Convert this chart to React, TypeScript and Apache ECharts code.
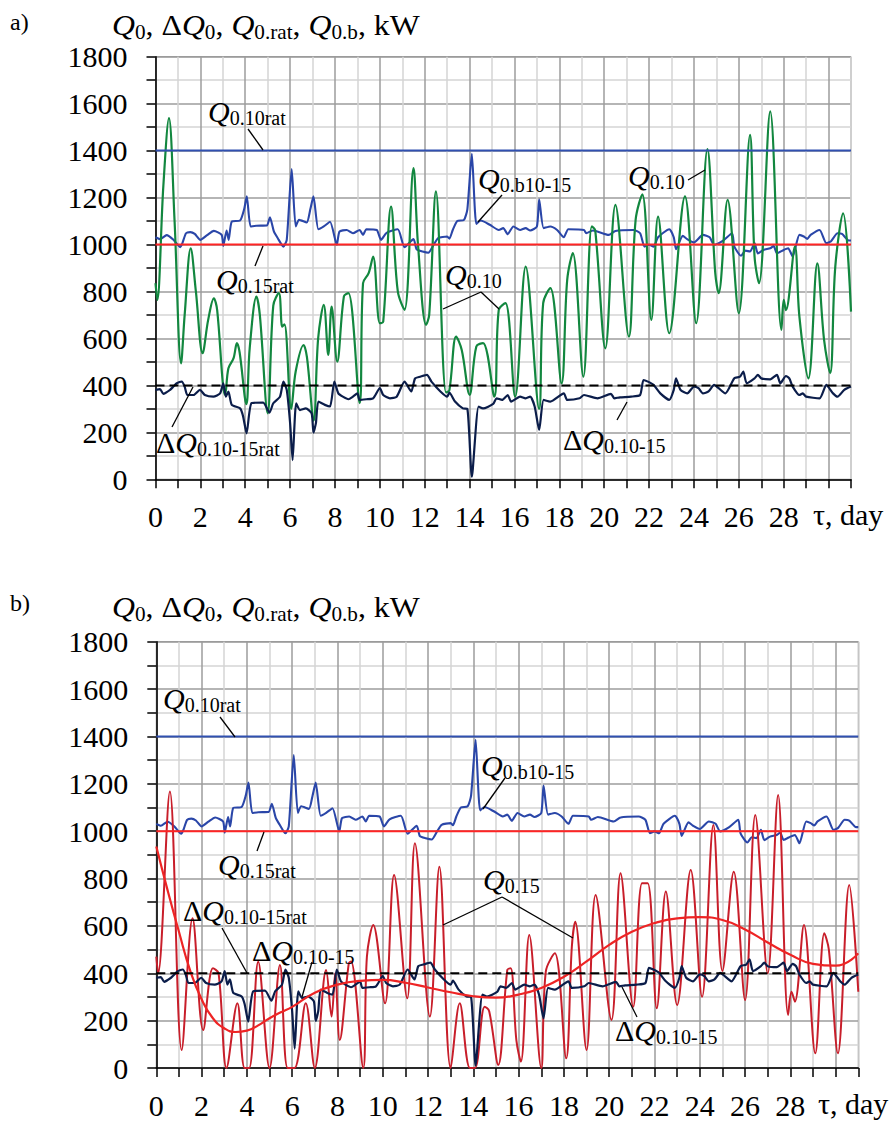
import React, { useEffect, useRef } from 'react';
import * as echarts from 'echarts';

// ---------- DATA ----------
const X_MAX = 31; // days
const Y_MAX = 1800; // kW
const Q010_RAT = 1400;
const Q015_RAT = 1000;
const DQ_RAT = 400;

// Q0.10 (panel a, green) [day, kW]
const q010 = [
  [0, 835], [0.08, 764], [0.35, 1250], [0.6, 1538], [0.85, 1100], [1.14, 494], [1.3, 700], [1.57, 984],
  [1.8, 800], [2.1, 537], [2.35, 680], [2.6, 771], [2.75, 720], [3.0, 410], [3.1, 360], [3.25, 473],
  [3.48, 516], [3.63, 580], [3.75, 540], [4.05, 320], [4.2, 560], [4.5, 778], [4.65, 700], [5.0, 281],
  [5.25, 740], [5.5, 793], [5.65, 650], [5.75, 660], [6.05, 300], [6.25, 460], [6.6, 572], [6.75, 520],
  [7.05, 250], [7.25, 600], [7.5, 743], [7.7, 530], [7.85, 736], [8.1, 501], [8.4, 780], [8.6, 793],
  [9.1, 324], [9.25, 835], [9.5, 878], [9.7, 949], [10.0, 665], [10.15, 672], [10.5, 1162], [10.8, 800],
  [11.1, 722], [11.5, 1325], [11.7, 1000], [12.06, 658], [12.2, 700], [12.5, 1226], [12.95, 370],
  [13.1, 380], [13.4, 608], [13.65, 551], [14.0, 360], [14.3, 566], [14.6, 580], [15.1, 352], [15.3, 722],
  [15.6, 750], [16.03, 352], [16.5, 906], [17.1, 300], [17.28, 750], [17.6, 814], [18.1, 409],
  [18.35, 849], [18.6, 963], [19.07, 437], [19.45, 1077], [19.6, 1060], [20.05, 558], [20.5, 1169],
  [21.1, 608], [21.4, 1105], [21.7, 1214], [22.1, 679], [22.4, 1119], [22.9, 622], [23.6, 1205],
  [24.1, 665], [24.6, 1406], [24.95, 878], [25.1, 793], [25.5, 1190], [26.0, 707], [26.5, 1467],
  [26.7, 950], [26.9, 835], [27.4, 1567], [27.9, 636], [28.0, 764], [28.1, 720], [28.5, 991],
  [28.7, 693], [29.1, 430], [29.5, 920], [29.8, 594], [30.07, 452], [30.3, 906], [30.65, 1133], [31.0, 714],
];

// Q0.b10-15 (blue, both panels)
const qb1015 = [
  [0, 1031], [0.2, 1023], [0.5, 1040], [0.8, 1020], [1.1, 989], [1.2, 1006], [1.36, 1048], [1.55, 1053],
  [1.75, 1045], [2.0, 1020], [2.3, 1040], [2.6, 1058], [2.95, 1041], [3.02, 994], [3.17, 1060], [3.26, 1020],
  [3.4, 1098], [3.77, 1102], [3.95, 1150], [4.07, 1205], [4.24, 1077], [4.5, 1080], [4.96, 1081], [5.1, 1116],
  [5.28, 1055], [5.45, 1027], [5.7, 991], [5.85, 1020], [6.07, 1321], [6.25, 1077], [6.4, 1105], [6.74, 1094],
  [6.9, 1150], [7.04, 1205], [7.26, 1065], [7.5, 1077], [7.78, 1097], [8.08, 999], [8.2, 1055], [8.52, 1062],
  [8.8, 1048], [9.1, 1062], [9.25, 1041], [9.4, 1065], [9.86, 1062], [10.05, 1020], [10.3, 1050],
  [10.8, 1065], [11.1, 989], [11.5, 1023], [11.64, 979], [11.9, 970], [12.16, 965], [12.4, 999],
  [12.6, 1027], [13.0, 1034], [13.1, 1025], [13.25, 1062], [13.45, 1100], [13.75, 1105], [13.9, 1150],
  [14.1, 1386], [14.3, 1088], [14.5, 1102], [14.9, 1084], [15.3, 1062], [15.5, 1070], [15.7, 1044],
  [15.95, 1077], [16.25, 1062], [16.5, 1070], [16.7, 1060], [17.0, 1077], [17.1, 1193], [17.3, 1070],
  [17.6, 1077], [17.9, 1062], [18.2, 1031], [18.4, 1065], [19.1, 1062], [19.2, 1048], [19.5, 1060],
  [20.2, 1041], [20.5, 1058], [21.3, 1062], [21.6, 1048], [21.8, 991], [22.0, 999], [22.2, 991],
  [22.4, 1031], [22.9, 1065], [23.1, 1031], [23.2, 980], [23.5, 1037], [23.7, 1023], [24.0, 1009],
  [24.4, 1041], [24.7, 1031], [24.9, 999], [25.3, 1017], [25.7, 1048], [25.8, 991], [26.1, 952],
  [26.3, 974], [26.5, 970], [26.7, 1006], [26.85, 962], [27.1, 977], [27.4, 984], [27.55, 994],
  [27.7, 963], [28.0, 977], [28.2, 984], [28.4, 949], [28.7, 1041], [28.9, 1034], [29.05, 1024],
  [29.2, 1041], [29.6, 1062], [29.9, 1006], [30.1, 1013], [30.4, 1048], [30.6, 1045], [30.9, 1017], [31.0, 1017],
];

// ΔQ0.10-15 (navy, both panels)
const dq1015 = [
  [0, 381], [0.2, 384], [0.35, 364], [0.65, 381], [0.8, 395], [0.95, 409], [1.17, 416], [1.3, 395],
  [1.42, 359], [1.7, 359], [1.98, 381], [2.2, 359], [2.58, 352], [2.88, 366], [3.02, 409], [3.14, 352],
  [3.25, 374], [3.4, 317], [3.77, 302], [3.9, 270], [4.06, 196], [4.28, 324], [4.8, 327], [5.08, 284],
  [5.25, 324], [5.55, 352], [5.7, 416], [5.85, 381], [6.0, 239], [6.11, 82], [6.27, 324], [6.44, 295],
  [6.7, 302], [6.96, 281], [7.04, 199], [7.15, 239], [7.26, 331], [7.55, 317], [7.78, 310], [7.97, 416],
  [8.15, 366], [8.35, 352], [8.6, 341], [8.8, 352], [9.0, 366], [9.1, 338], [9.4, 341], [9.7, 345],
  [10.0, 388], [10.15, 359], [10.45, 345], [10.75, 352], [11.1, 416], [11.4, 374], [11.57, 430],
  [11.8, 437], [12.1, 445], [12.3, 416], [12.7, 374], [13.0, 352], [13.1, 369], [13.35, 331],
  [13.7, 302], [13.9, 300], [14.1, 11], [14.4, 310], [14.6, 302], [15.05, 321], [15.2, 345],
  [15.45, 338], [15.7, 359], [15.85, 331], [16.25, 352], [16.5, 345], [16.7, 352], [16.9, 310],
  [17.1, 210], [17.3, 338], [17.6, 331], [18.2, 366], [18.35, 338], [18.9, 345], [19.1, 359],
  [19.7, 345], [20.3, 364], [20.45, 345], [20.7, 349], [21.2, 352], [21.6, 359], [21.75, 423],
  [21.95, 416], [22.2, 402], [22.5, 366], [22.9, 338], [23.1, 381], [23.2, 430], [23.4, 381],
  [23.7, 366], [24.0, 395], [24.2, 388], [24.4, 366], [24.65, 374], [24.9, 402], [25.1, 388],
  [25.4, 366], [25.8, 430], [26.05, 437], [26.2, 459], [26.35, 409], [26.7, 430], [26.85, 445],
  [27.0, 430], [27.4, 426], [27.7, 445], [27.85, 409], [28.1, 440], [28.25, 430], [28.4, 395],
  [28.7, 359], [28.85, 366], [29.0, 352], [29.6, 345], [29.9, 402], [30.2, 366], [30.4, 352],
  [30.7, 381], [31.0, 395],
];

// Q0.15 (panel b, crimson)
const q015 = [
  [0, 470], [0.08, 400], [0.6, 1167], [1.12, 76], [1.6, 632], [2.07, 160], [2.5, 421], [2.75, 400],
  [3.1, 0], [3.58, 273], [3.9, 0], [4.1, 0], [4.5, 449], [5.0, 0], [5.46, 435], [5.8, 0], [6.1, 0],
  [6.6, 273], [7.0, 0], [7.5, 414], [7.74, 217], [7.9, 400], [8.1, 118], [8.5, 442], [8.6, 450],
  [9.14, 0], [9.3, 470], [9.58, 604], [10.1, 273], [10.5, 815], [11.08, 294], [11.42, 949],
  [12.08, 217], [12.5, 850], [13.0, 0], [13.4, 273], [13.85, 0], [14.07, 0], [14.5, 259], [14.7, 240],
  [15.1, 13], [15.5, 414], [15.65, 421], [15.9, 118], [16.1, 27], [16.47, 562], [17.0, 0], [17.2, 407],
  [17.6, 484], [18.1, 41], [18.35, 512], [18.5, 618], [19.0, 76], [19.4, 730], [20.1, 203], [20.5, 822],
  [21.06, 259], [21.45, 780], [21.7, 780], [22.1, 252], [22.5, 745], [23.0, 266], [23.6, 836],
  [24.1, 301], [24.6, 1026], [25.0, 410], [25.5, 829], [26.0, 287], [26.45, 1068], [27.0, 400],
  [27.46, 1153], [27.9, 224], [28.05, 322], [28.2, 280], [28.6, 604], [29.1, 62], [29.5, 569],
  [29.7, 500], [30.1, 62], [30.6, 773], [31.0, 322],
];

// Q0.15 trend (panel b, smooth red)
const q015Trend = [
  [0, 935], [0.5, 750], [1.0, 575], [1.5, 410], [2.0, 290], [2.5, 210], [3.0, 168], [3.5, 152],
  [4.0, 158], [4.5, 180], [5.0, 210], [5.5, 235], [6.0, 258], [7.0, 318], [8.0, 352], [9.0, 368],
  [10.0, 372], [11.0, 360], [12.0, 340], [13.0, 320], [14.0, 303], [15.0, 297], [16.0, 310],
  [17.0, 338], [18.0, 385], [19.0, 450], [20.0, 520], [21.0, 575], [22.0, 612], [23.0, 632],
  [24.0, 637], [25.0, 625], [26.0, 585], [27.0, 530], [28.0, 478], [29.0, 440], [30.0, 432], [31.0, 484],
];

// ---------- STYLE ----------
const FONT = 'Liberation Serif, Times New Roman, serif';
const C_GREEN = '#12873f';
const C_BLUE = '#2a46a8';
const C_BLUE_RAT = '#3050b0';
const C_RED_RAT = '#ff2424';
const C_NAVY = '#0b1d4a';
const C_CRIMSON = '#c81e2a';
const C_TREND = '#ee2424';

const grids = [
  { left: 155.5, top: 56.7, width: 695.5, height: 422.6 },
  { left: 156.3, top: 641.7, width: 702, height: 426.3 },
];

function xAxisFor(i: number) {
  return {
    type: 'value', gridIndex: i, min: 0, max: X_MAX, interval: 1,
    axisLine: { show: true, onZero: false, lineStyle: { color: '#000', width: 1.5 } },
    axisTick: { show: true, length: 9, lineStyle: { color: '#000', width: 1.5 } },
    axisLabel: {
      margin: 22, fontSize: 30, fontFamily: FONT, color: '#000',
      formatter: (v: number) => (v % 2 === 0 && v <= 28 ? String(v) : ''),
    },
    splitLine: { show: true, lineStyle: { color: ['#9c9c9c', '#d4d4d4'], width: 1.5 } },
  };
}
function yAxisFor(i: number) {
  return {
    type: 'value', gridIndex: i, min: 0, max: Y_MAX, interval: 100,
    axisLine: { show: true, onZero: false, lineStyle: { color: '#000', width: 1.5 } },
    axisTick: { show: true, length: 9, lineStyle: { color: '#000', width: 1.5 } },
    axisLabel: {
      margin: 28, fontSize: 30, fontFamily: FONT, color: '#000',
      formatter: (v: number) => (v % 200 === 0 ? String(v) : ''),
    },
    splitLine: { show: true, lineStyle: { color: ['#9c9c9c', '#d4d4d4'], width: 1.5 } },
  };
}

function hline(i: number, y: number, color: string, width: number, dashed = false) {
  return {
    type: 'line', xAxisIndex: i, yAxisIndex: i, data: [[0, y], [X_MAX, y]],
    symbol: 'none', silent: true,
    lineStyle: { color, width, type: dashed ? [9, 5] : 'solid' },
  };
}
function curve(i: number, data: number[][], color: string, width: number, smooth: number | boolean, z = 2) {
  return {
    type: 'line', xAxisIndex: i, yAxisIndex: i, data, symbol: 'none', smooth, z,
    lineStyle: { color, width },
  };
}

// ---------- ANNOTATIONS ----------
const rich = {
  q: { fontFamily: FONT, fontStyle: 'italic', fontSize: 30, lineHeight: 34, fill: '#000', color: '#000' },
  d: { fontFamily: FONT, fontSize: 30, lineHeight: 34, fill: '#000', color: '#000' },
  n: { fontFamily: FONT, fontSize: 30, lineHeight: 34, fill: '#000', color: '#000' },
  s: { fontFamily: FONT, fontSize: 20, lineHeight: 20, verticalAlign: 'bottom', fill: '#000', color: '#000' },
};

function richText(x: number, y: number, text: string, sx = 1) {
  return {
    type: 'text', x, y, z: 100, scaleX: sx,
    style: { text, rich, fontFamily: FONT, fontSize: 30, fill: '#000', align: 'left', verticalAlign: 'middle' },
  };
}
function plain(x: number, y: number, text: string, size = 30) {
  return {
    type: 'text', x, y, z: 100,
    style: { text, fontFamily: FONT, fontSize: size, fill: '#000', align: 'left', verticalAlign: 'middle' },
  };
}
function seg(x1: number, y1: number, x2: number, y2: number) {
  return { type: 'line', z: 100, shape: { x1, y1, x2, y2 }, style: { stroke: '#000', lineWidth: 1.3 } };
}

const TITLE = '{q|Q}{s|0}{n|, }{d|Δ}{q|Q}{s|0}{n|, }{q|Q}{s|0.rat}{n|, }{q|Q}{s|0.b}{n|, kW}';
const L_Q10RAT = '{q|Q}{s|0.10rat}';
const L_Q15RAT = '{q|Q}{s|0.15rat}';
const L_QB = '{q|Q}{s|0.b10-15}';
const L_Q10 = '{q|Q}{s|0.10}';
const L_Q15 = '{q|Q}{s|0.15}';
const L_DQRAT = '{d|Δ}{q|Q}{s|0.10-15rat}';
const L_DQ = '{d|Δ}{q|Q}{s|0.10-15}';

const graphics = [
  // panel a
  plain(10, 22, 'a)', 24),
  richText(112, 25, TITLE, 1.06),
  plain(813, 514, 'τ, day'),
  richText(208, 111, L_Q10RAT), seg(248, 129, 263, 150),
  richText(216, 279, L_Q15RAT), seg(255, 266, 263, 246),
  richText(478, 178, L_QB), seg(502, 195, 478, 222),
  richText(628, 175, L_Q10), seg(688, 180, 705, 170),
  richText(445, 274, L_Q10), seg(481, 292, 443, 309), seg(481, 292, 499, 309),
  richText(156, 442, L_DQRAT), seg(172, 427, 193, 387),
  richText(563, 439, L_DQ), seg(617, 420, 627, 402),
  // panel b
  plain(10, 603, 'b)', 24),
  richText(112, 607, TITLE, 1.06),
  plain(818, 1103, 'τ, day'),
  richText(163, 698, L_Q10RAT), seg(220, 717, 235, 737),
  richText(218, 864, L_Q15RAT), seg(257, 851, 264, 832),
  richText(481, 765, L_QB), seg(505, 778, 483, 809),
  richText(483, 879, L_Q15), seg(502, 897, 443, 925), seg(502, 897, 573, 938),
  richText(183, 910, L_DQRAT), seg(222, 928, 247, 973),
  richText(252, 950, L_DQ), seg(312, 962, 302, 997),
  richText(615, 1030, L_DQ), seg(637, 1017, 622, 987),
];

const option = {
  animation: false,
  backgroundColor: '#fff',
  grid: grids.map((g) => ({ ...g, show: true, borderColor: '#808080', borderWidth: 1, containLabel: false })),
  xAxis: [xAxisFor(0), xAxisFor(1)],
  yAxis: [yAxisFor(0), yAxisFor(1)],
  series: [
    // panel a
    hline(0, Q015_RAT, C_RED_RAT, 2),
    hline(0, Q010_RAT, C_BLUE_RAT, 2),
    curve(0, qb1015, C_BLUE, 2.1, 0.2),
    curve(0, q010, C_GREEN, 2.2, 0.35),
    curve(0, dq1015, C_NAVY, 2.2, 0.2),
    hline(0, DQ_RAT, '#000', 2, true),
    // panel b
    hline(1, Q015_RAT, C_RED_RAT, 2),
    hline(1, Q010_RAT, C_BLUE_RAT, 2),
    curve(1, qb1015, C_BLUE, 2.1, 0.2),
    curve(1, q015, C_CRIMSON, 2, 0.35),
    curve(1, dq1015, C_NAVY, 2.2, 0.2),
    curve(1, q015Trend, C_TREND, 2.2, true),
    hline(1, DQ_RAT, '#000', 2, true),
  ],
  graphic: graphics,
};

export default function App() {
  const ref = useRef<HTMLDivElement>(null);
  useEffect(() => {
    document.body.style.margin = '0';
    const chart = echarts.init(ref.current as HTMLDivElement, null, { renderer: 'svg' });
    chart.setOption(option as any);
    return () => chart.dispose();
  }, []);
  return <div ref={ref} style={{ width: 889, height: 1121 }} />;
}
